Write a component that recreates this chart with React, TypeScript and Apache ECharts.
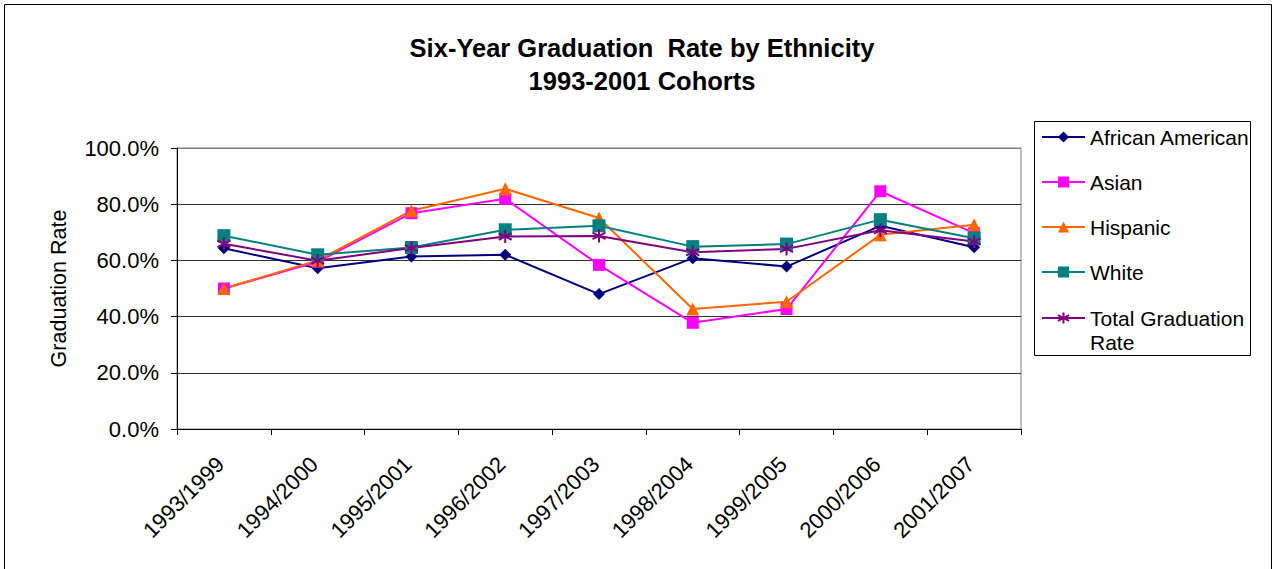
import React, { useEffect, useRef } from "react";
import * as echarts from "echarts";

const categories = [
  "1993/1999",
  "1994/2000",
  "1995/2001",
  "1996/2002",
  "1997/2003",
  "1998/2004",
  "1999/2005",
  "2000/2006",
  "2001/2007",
];
const africanAmerican = [64.3, 57.2, 61.4, 62.0, 48.0, 60.8, 57.8, 72.3, 64.7];
const asian = [50.0, 59.5, 76.8, 81.9, 58.4, 37.8, 42.7, 84.6, 69.7];
const hispanic = [50.0, 60.0, 77.7, 85.5, 75.1, 42.7, 45.3, 69.1, 72.7];
const white = [68.8, 62.0, 64.6, 70.9, 72.3, 64.9, 65.8, 74.5, 67.9];
const total = [65.9, 59.9, 64.4, 68.5, 68.7, 62.9, 64.1, 70.7, 66.7];

const FONT = "'Liberation Sans', Arial, Helvetica, sans-serif";
const STAR = "path://M0,-10L0,10M-8.66,-5L8.66,5M-8.66,5L8.66,-5";

export default function App() {
  const ref = useRef<HTMLDivElement>(null);

  useEffect(() => {
    if (!ref.current) return;
    const chart = echarts.init(ref.current, null, { renderer: "svg" });

    const mk = (name: string, data: number[], color: string, symbol: string, size: number, extra: any = {}) => ({
      name,
      type: "line",
      data,
      symbol,
      symbolSize: size,
      lineStyle: { color, width: 2 },
      itemStyle: { color, ...extra },
      emphasis: { disabled: true },
    });

    chart.setOption({
      animation: false,
      backgroundColor: "#ffffff",
      title: {
        text: "Six-Year Graduation  Rate by Ethnicity\n1993-2001 Cohorts",
        left: 642,
        top: 31,
        textAlign: "center",
        padding: 0,
        textStyle: {
          fontFamily: FONT,
          fontSize: 25.5,
          fontWeight: "bold",
          color: "#000",
          lineHeight: 33.5,
        },
      },
      legend: [
        {
          data: ["African American", "Asian", "Hispanic", "White"],
          orient: "vertical",
          left: 1041,
          top: 125,
          padding: 0,
          itemWidth: 43,
          itemHeight: 14,
          itemGap: 21,
          selectedMode: false,
          textStyle: { fontFamily: FONT, fontSize: 21, color: "#000", lineHeight: 24 },
        },
        {
          data: ["Total Graduation Rate"],
          orient: "vertical",
          left: 1041,
          top: 282,
          padding: 0,
          itemWidth: 43,
          itemHeight: 14,
          selectedMode: false,
          formatter: () => " \nTotal Graduation\nRate",
          textStyle: {
            fontFamily: FONT,
            fontSize: 21,
            color: "#000",
            lineHeight: 24,
          },
        },
      ],
      graphic: [
        {
          type: "rect",
          shape: { x: 4.5, y: 4.5, width: 1267, height: 620 },
          style: { fill: "none", stroke: "#000", lineWidth: 1 },
          silent: true,
          z: -10,
        },
        {
          type: "rect",
          shape: { x: 1034.5, y: 121.5, width: 216, height: 234 },
          style: { fill: "none", stroke: "#000", lineWidth: 1 },
          silent: true,
        },
      ],
      grid: {
        left: 177,
        right: 252,
        top: 148,
        bottom: 140,
        show: true,
        borderColor: "#808080",
        borderWidth: 1,
      },
      xAxis: {
        type: "category",
        data: categories,
        boundaryGap: true,
        axisLine: { lineStyle: { color: "#000", width: 1 } },
        axisTick: { show: true, length: 6, lineStyle: { color: "#000" } },
        axisLabel: {
          rotate: 45,
          margin: 28,
          padding: [0, 5, 0, 0],
          fontFamily: FONT,
          fontSize: 22,
          color: "#000",
          interval: 0,
        },
        splitLine: { show: false },
      },
      yAxis: {
        type: "value",
        min: 0,
        max: 100,
        interval: 20,
        name: "Graduation Rate",
        nameLocation: "middle",
        nameRotate: 90,
        nameGap: 107,
        nameTextStyle: { fontFamily: FONT, fontSize: 21.5, color: "#000" },
        axisLine: { show: true, lineStyle: { color: "#000", width: 1 } },
        axisTick: { show: true, length: 6, lineStyle: { color: "#000" } },
        axisLabel: {
          margin: 18,
          fontFamily: FONT,
          fontSize: 22,
          color: "#000",
          formatter: (v: number) => v.toFixed(1) + "%",
        },
        splitLine: {
          show: true,
          lineStyle: {
            color: ["#303030", "#303030", "#303030", "#303030", "#303030", "#808080"],
            width: 1,
          },
        },
      },
      series: [
        mk("African American", africanAmerican, "#000080", "diamond", 12),
        mk("Asian", asian, "#FF00FF", "rect", 12),
        mk("Hispanic", hispanic, "#FF6600", "triangle", 13),
        mk("White", white, "#008080", "rect", 13),
        mk("Total Graduation Rate", total, "#800080", STAR, 13, {
          borderColor: "#800080",
          borderWidth: 2,
        }),
      ],
    });

    return () => chart.dispose();
  }, []);

  return (
    <div
      ref={ref}
      style={{ position: "absolute", left: 0, top: 0, width: 1273, height: 569 }}
    />
  );
}
